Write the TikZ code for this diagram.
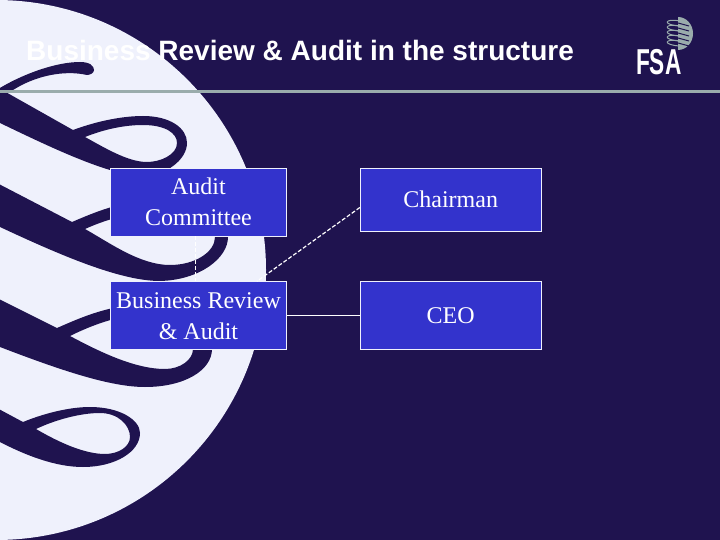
\documentclass[tikz,border=0pt]{standalone}
\usepackage{fontspec}
\setmainfont{Liberation Serif}
\newfontfamily\headfont{Liberation Sans}
\usetikzlibrary{positioning}
\definecolor{navy}{HTML}{1F134F}
\definecolor{pale}{HTML}{EFF1FC}
\definecolor{boxblue}{HTML}{3333CC}
\definecolor{rule}{HTML}{9AACAC}
\tikzset{
  post/.style={draw=pale, line width=0.7pt, fill=boxblue, text=white, align=center,
    minimum width=176pt, minimum height=68pt, inner sep=0pt, font=\fontsize{24}{31}\selectfont},
  link/.style={white, line width=0.8pt},
  dashlink/.style={link, line width=1.2pt, dash pattern=on 4pt off 2pt},
  swirl/.style={fill=navy, even odd rule}
}
\begin{document}
\begin{tikzpicture}[x=1pt, y=-1pt]
    \useasboundingbox (0,0) rectangle (720,540);
    \fill[navy] (0,0) rectangle (720,540);
    \fill[pale] (-4,270) circle (270);

    \fill[swirl] (-5,91) .. controls (20,75) and (55,62) .. (80,62) .. controls (90,62) and (94,66) .. (94,70)
        .. controls (94,73) and (90,75) .. (87,75) .. controls (65,70) and (35,75) .. (10,92) -- (-5,100) -- cycle;
    \fill[swirl] (-5,86) -- (73,130) .. controls (100,120) and (125,116) .. (143,116) .. controls (170,116) and (187,128) .. (187,143)
        .. controls (187,160) and (165,176) .. (143,176) .. controls (110,176) and (50,147) .. (0,123) -- (-5,120) -- cycle
        (85,137) .. controls (105,129) and (125,125) .. (143,125) .. controls (165,125) and (177,133) .. (177,143)
        .. controls (177,155) and (160,162) .. (147,162) .. controls (128,162) and (105,148) .. (85,137) -- cycle;
    \fill[swirl] (-5,182) -- (72,222) .. controls (100,210) and (125,200) .. (160,200) .. controls (200,200) and (228,215) .. (228,237)
        .. controls (228,258) and (200,280) .. (160,281) .. controls (120,281) and (60,255) .. (0,227) -- (-5,224) -- cycle
        (85,229) .. controls (105,220) and (130,212) .. (160,212) .. controls (195,212) and (215,222) .. (215,237)
        .. controls (215,252) and (195,265) .. (170,265) .. controls (140,265) and (110,243) .. (85,229) -- cycle;
    \fill[swirl] (-5,297) -- (57,328) .. controls (80,318) and (110,304) .. (150,304) .. controls (190,304) and (212,325) .. (212,349)
        .. controls (212,370) and (185,387) .. (145,387) .. controls (110,387) and (60,370) .. (0,347) -- (-5,344) -- cycle
        (70,336) .. controls (90,326) and (120,314) .. (150,314) .. controls (180,314) and (193,330) .. (193,349)
        .. controls (193,360) and (180,369) .. (165,369) .. controls (135,369) and (100,352) .. (70,336) -- cycle;
    \fill[swirl] (-5,407) -- (23,422) .. controls (45,413) and (70,407) .. (90,407) .. controls (120,407) and (140,420) .. (140,433)
        .. controls (140,452) and (115,467) .. (83,467) .. controls (55,467) and (25,455) .. (0,442) -- (-5,439) -- cycle
        (36,429) .. controls (55,420) and (80,413) .. (100,413) .. controls (118,413) and (130,425) .. (130,437)
        .. controls (130,447) and (118,454) .. (105,454) .. controls (85,454) and (60,443) .. (36,429) -- cycle;

    \fill[rule] (0,90.5) rectangle (720,93.5);

    \node[anchor=base west, inner sep=0pt, text=white] (title) at (26,61)
        {\headfont\bfseries\fontsize{28}{30}\selectfont Business Review \& Audit in the structure};

    \node[post] (audit) at (198.5,202) {Audit\\Committee};
    \node[post, below=45pt of audit] (review) {Business Review\\\& Audit};
    \node[post, right=73pt of audit.north east, anchor=north west, minimum width=181pt, minimum height=63pt] (chair) {Chairman};
    \node[post, right=73pt of review, minimum width=181pt] (ceo) {CEO};

    \draw[link] (review) -- (ceo);
    \draw[dashlink] ([yshift=-8pt]chair.west) -- ([xshift=-30pt]review.north east);
    \draw[dashlink] ([xshift=-3pt]audit.south) -- ([xshift=-3pt]review.north);

    % logo
    \node[anchor=base west, inner sep=0pt, text=white, xscale=.63] (fsa) at (636,75)
        {\headfont\bfseries\fontsize{36}{36}\selectfont FSA};
    \fill[rule] (678,17) arc (-90:90:15 and 16.5) -- cycle;
    \foreach \yy in {24,29,34,39,44}
        \draw[rule, line width=1pt] (680,\yy-3) .. controls (664,\yy-6) and (662,\yy+1) .. (680,\yy+2);
    \foreach \yy in {24,29,34,39,44}
        \draw[navy, line width=1pt] (678,\yy-1) -- (689,\yy+2);
\end{tikzpicture}
\end{document}
